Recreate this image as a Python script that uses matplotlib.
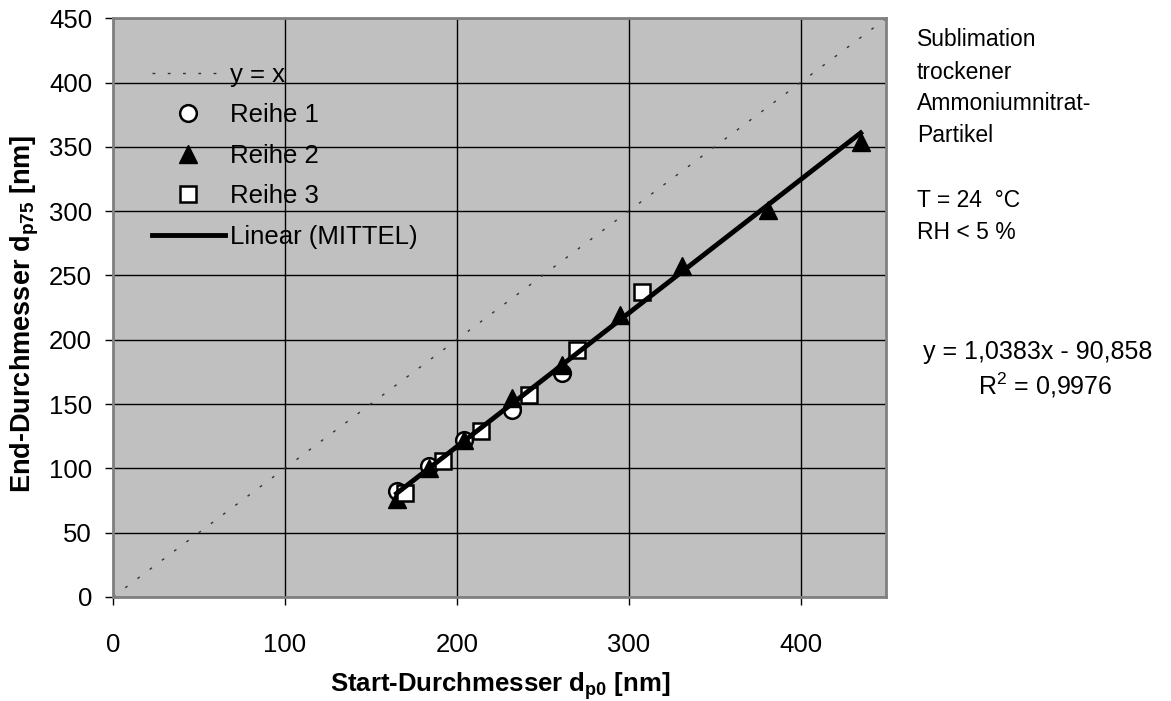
import matplotlib
matplotlib.use('Agg')
import matplotlib.pyplot as plt
import numpy as np

plt.rcParams['font.family'] = ['Liberation Sans', 'DejaVu Sans']
plt.rcParams['mathtext.fontset'] = 'custom'
plt.rcParams['mathtext.rm'] = 'Liberation Sans'
plt.rcParams['mathtext.bf'] = 'Liberation Sans:bold'

# data (nm)
r1_x = [165, 184, 204, 232, 261]
r1_y = [82, 102, 122, 145, 174]
r2_x = [165, 184, 204, 232, 261, 295, 331, 381, 435]
r2_y = [76, 100, 122, 155, 180, 219, 257, 301, 354]
r3_x = [170, 192, 214, 242, 270, 308]
r3_y = [81, 106, 129, 157, 192, 237]

# trendline coefficients from the chart
slope = 1.0383
intercept = -90.858
r2 = 0.9976

fig = plt.figure(figsize=(11.71, 7.01), dpi=100)
ax = fig.add_axes([0.0965, 0.1485, 0.6605, 0.8255])
ax.set_facecolor('#C0C0C0')

fs = 18.5
fs_side = 16.5

# y = x reference
ax.plot([0, 450], [0, 450], color='#333333', lw=1, ls=(0, (2, 9)), label='y = x', zorder=2)

ax.plot(r1_x, r1_y, ls='none', marker='o', ms=12, mfc='white', mec='black', mew=1.8,
        label='Reihe 1', zorder=3)
ax.plot(r2_x, r2_y, ls='none', marker='^', ms=13.5, mfc='black', mec='black',
        label='Reihe 2', zorder=3)
ax.plot(r3_x, r3_y, ls='none', marker='s', ms=12, mfc='white', mec='black', mew=1.8,
        label='Reihe 3', zorder=3)

all_x = np.array(r1_x + r2_x + r3_x)
lx = np.array([all_x.min(), all_x.max()])
ax.plot(lx, slope * lx + intercept, color='black', lw=3.5, label='Linear (MITTEL)', zorder=4)

ax.set_xlim(0, 450)
ax.set_ylim(0, 450)
ax.set_xticks([0, 100, 200, 300, 400])
ax.set_yticks(np.arange(0, 451, 50))
ax.grid(True, color='black', lw=1)
ax.set_axisbelow(True)
for s in ax.spines.values():
    s.set_color('#808080')
    s.set_linewidth(2)
ax.tick_params(direction='out', length=6, width=1, colors='black', labelsize=fs, pad=9)
ax.tick_params(axis='x', pad=20)

ax.set_xlabel(r'Start-Durchmesser $\mathbf{d_{p0}}$ [nm]', fontsize=18.5, fontweight='bold')
ax.set_ylabel(r'End-Durchmesser $\mathbf{d_{p75}}$ [nm]', fontsize=19.5, fontweight='bold')
ax.xaxis.set_label_coords(0.5, -0.127)
ax.yaxis.set_label_coords(-0.093, 0.489)

leg = ax.legend(loc='upper left', bbox_to_anchor=(0.02, 0.963), frameon=False, fontsize=fs,
                handlelength=2.85, labelspacing=0.64, handletextpad=0.2)

txt = dict(fontsize=fs_side, transform=fig.transFigure, va='center')
fig.text(0.783, 0.943, 'Sublimation', **txt)
fig.text(0.783, 0.897, 'trockener', **txt)
fig.text(0.783, 0.852, 'Ammoniumnitrat-', **txt)
fig.text(0.783, 0.806, 'Partikel', **txt)
fig.text(0.783, 0.714, 'T = 24  °C', **txt)
fig.text(0.783, 0.669, 'RH < 5 %', **txt)
eq = dict(fontsize=18, transform=fig.transFigure, va='center', ha='center')
fig.text(0.8865, 0.498, 'y = 1,0383x - 90,858', **eq)
fig.text(0.893, 0.451, r'R$^2$ = ' + f'{r2}'.replace('.', ','), **eq)

fig.savefig('out.png', dpi=100)
